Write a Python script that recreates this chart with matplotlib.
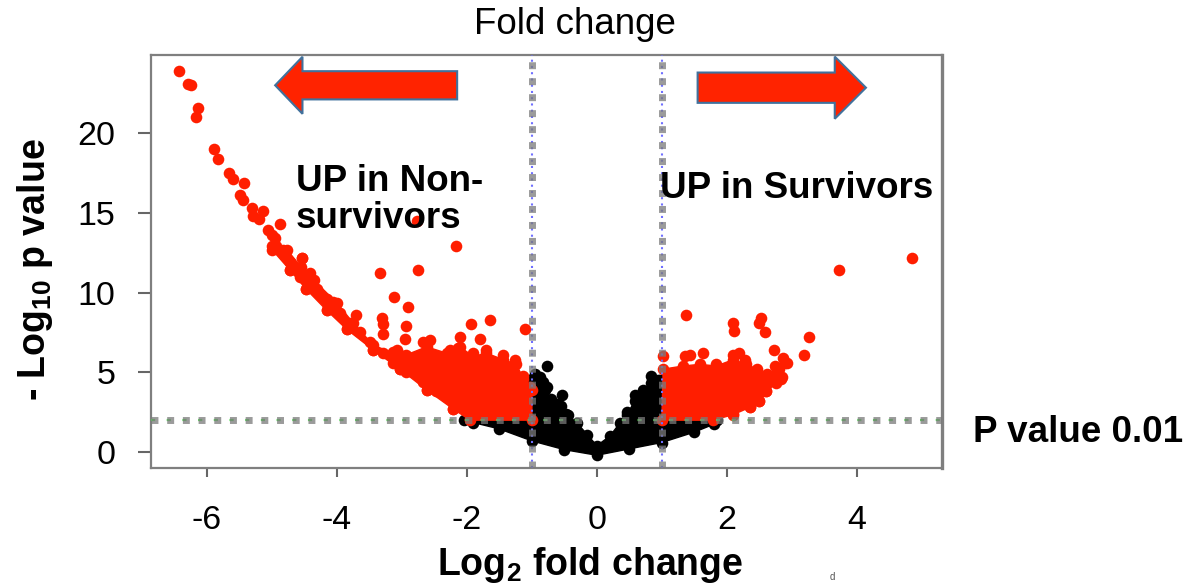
import matplotlib
matplotlib.use("Agg")
import matplotlib.pyplot as plt
from matplotlib.patches import Polygon, FancyArrow

plt.rcParams['font.family'] = ['Liberation Sans', 'DejaVu Sans']
plt.rcParams['lines.scale_dashes'] = False
plt.rcParams['mathtext.fontset'] = 'custom'
plt.rcParams['mathtext.rm'] = 'Liberation Sans'
plt.rcParams['mathtext.bf'] = 'Liberation Sans:bold'

# ---------------- data ----------------
x_ticks = [-6, -4, -2, 0, 2, 4]
y_ticks = [0, 5, 10, 15, 20]
fc_cut = 1.0          # |log2 fold change| threshold
p_cut = 2.0           # -log10(0.01)

# individual significant genes (red) - left side
red_left_x = [-6.43, -6.29, -6.24, -6.13, -6.17, -5.89, -5.83, -5.66, -5.60, -5.43, -5.49, -5.45,
              -5.30, -5.29, -5.13, -4.87, -5.06, -4.95, -4.93, -4.83, -5.20, -5.00,
              -4.72, -4.54, -4.57, -4.42, -4.31, -4.16, -4.06, -3.95, -3.70, -3.80, -3.65, -3.49,
              -3.29, -3.13, -2.93, -2.67, -2.47, -2.31,
              -4.72, -4.47, -4.16, -3.85, -3.44, -3.03, -2.62, -2.21, -1.95,
              -2.77, -2.16, -2.75, -3.34, -4.53, -3.12, -2.90, -3.31, -3.29, -3.29, -2.93, -2.95,
              -1.93, -1.65, -1.11, -2.11, -1.80, -2.57, -2.67, -2.26, -2.13, -1.70, -1.44, -1.26,
              -1.90, -3.13, -1.13, -1.03, -2.98, -3.08]
red_left_y = [23.9, 23.1, 23.0, 21.6, 21.0, 19.0, 18.4, 17.5, 17.1, 16.9, 16.1, 15.8,
              15.3, 14.8, 15.1, 14.3, 13.9, 13.4, 12.9, 12.7, 14.6, 13.6,
              11.9, 12.2, 11.0, 11.2, 10.2, 9.6, 9.4, 8.7, 8.6, 8.1, 7.5, 6.9,
              6.2, 5.6, 5.0, 4.4, 3.8, 3.5,
              11.4, 10.2, 8.9, 7.7, 6.4, 5.2, 3.9, 2.7, 2.1,
              14.5, 12.9, 11.4, 11.2, 12.2, 9.7, 9.1, 8.4, 8.0, 7.4, 7.9, 7.1,
              8.0, 8.3, 7.7, 7.2, 7.1, 7.0, 6.9, 6.4, 6.5, 6.4, 6.1, 5.8,
              6.2, 6.3, 4.8, 4.1, 6.0, 6.4]

# individual significant genes (red) - right side
red_right_x = [1.37, 2.10, 2.11, 2.53, 2.50, 2.58, 3.27, 3.18, 2.72, 2.87, 2.89, 1.02, 1.35, 1.44,
               1.64, 1.84, 2.10, 2.19, 2.28, 2.43, 2.76, 3.72, 4.85, 2.56, 2.74, 2.76, 2.84, 2.66,
               2.10, 2.35, 2.50, 2.60, 2.92]
red_right_y = [8.6, 8.1, 7.6, 8.4, 8.1, 7.5, 7.2, 6.1, 6.4, 5.9, 5.6, 6.0, 6.0, 6.1,
               6.2, 5.5, 6.1, 6.2, 5.8, 5.1, 4.7, 11.4, 12.2, 3.8, 5.4, 4.9, 4.6, 4.5,
               2.4, 2.8, 3.2, 3.8, 5.6]

# non-significant genes (black) standing out of the dense core
black_x = [-0.77, -0.88, -0.83, -0.77, -0.54, -0.72, -0.60, -0.47, 0.58, 0.71, 0.84, 0.94, 0.46, -0.95]
black_y = [5.4, 4.7, 4.4, 4.1, 3.6, 3.2, 3.0, 2.4, 3.6, 3.9, 4.8, 4.5, 2.5, 4.9]

# outlines of the dense (overplotted) clouds of points
cloud_left_x = [-5.00, -4.77, -4.55, -4.36, -4.00, -3.75, -3.44, -3.13, -2.93, -2.62, -2.31, -2.11,
                -1.90, -1.70, -1.44, -1.24, -1.13, -1.00, -1.00, -1.95, -2.21, -2.62, -3.03, -3.44,
                -3.85, -4.16, -4.47, -4.72, -5.00]
cloud_left_y = [12.9, 12.7, 11.6, 10.8, 9.35, 8.1, 6.7, 6.2, 6.1, 6.6, 6.2, 6.6,
                6.0, 6.2, 5.8, 5.5, 4.6, 3.9, 2.0, 2.0, 2.7, 3.9, 5.2, 6.4,
                7.7, 8.9, 10.2, 11.4, 12.7]
cloud_right_x = [1.00, 1.79, 2.10, 2.35, 2.50, 2.60, 2.76, 2.85, 2.80, 2.61, 2.46, 2.30, 2.10,
                 1.84, 1.58, 1.33, 1.02]
cloud_right_y = [2.0, 2.0, 2.35, 2.8, 3.2, 3.8, 4.3, 4.7, 5.2, 4.9, 5.2, 5.5, 5.8,
                 5.4, 5.5, 5.4, 5.2]
cloud_black_x = [-2.05, -1.00, -1.00, -0.88, -0.80, -0.70, -0.55, -0.45, -0.30, -0.15, 0.00, 0.20,
                 0.35, 0.46, 0.58, 0.70, 0.84, 0.97, 1.00, 1.00, 1.85, 1.80, 1.50, 1.00, 0.50,
                 0.00, -0.50, -1.00, -1.50, -1.90]
cloud_black_y = [2.0, 2.0, 4.6, 4.4, 3.9, 3.3, 2.9, 2.3, 1.8, 1.1, 0.4, 1.0,
                 1.8, 2.3, 3.2, 3.6, 4.3, 4.5, 4.5, 2.0, 2.0, 1.75, 1.25, 0.6, 0.2,
                 -0.2, 0.15, 0.7, 1.45, 1.85]

RED = '#FF1E00'

# ---------------- figure ----------------
fig = plt.figure(figsize=(11.93, 5.87), dpi=100)
ax = fig.add_axes([0.1266, 0.2027, 0.6630, 0.7036])
ax.set_xlim(-6.86, 5.31)
ax.set_ylim(-1.0, 24.9)

# dense clouds
ax.add_patch(Polygon(list(zip(cloud_black_x, cloud_black_y)), closed=True, fc='black', ec='black', lw=1, zorder=2))
ax.add_patch(Polygon(list(zip(cloud_left_x, cloud_left_y)), closed=True, fc=RED, ec=RED, lw=1, zorder=3))
ax.add_patch(Polygon(list(zip(cloud_right_x, cloud_right_y)), closed=True, fc=RED, ec=RED, lw=1, zorder=3))

ms = 70
ax.scatter(black_x, black_y, s=ms, c='black', lw=0, zorder=2.5)
ax.scatter(cloud_black_x, cloud_black_y, s=ms, c='black', lw=0, zorder=2.5)
ax.scatter(cloud_left_x, cloud_left_y, s=ms, c=RED, lw=0, zorder=3.5)
ax.scatter(cloud_right_x, cloud_right_y, s=ms, c=RED, lw=0, zorder=3.5)
ax.scatter(red_left_x, red_left_y, s=ms, c=RED, lw=0, zorder=4)
ax.scatter(red_right_x, red_right_y, s=ms, c=RED, lw=0, zorder=4)

# threshold lines
ax.axhline(p_cut, color='#55DD55', lw=1.6, dashes=(3, 8.3), dash_capstyle='butt', zorder=5)
ax.axhline(p_cut, color='#7A7A7A', lw=5, alpha=0.75, dashes=(5, 6.3), dash_capstyle='butt', zorder=5.5)
for xv in (-fc_cut, fc_cut):
    ax.axvline(xv, color='#6F6FFF', lw=1.5, dashes=(1.5, 3.0), zorder=5)
    ax.axvline(xv, color='#7A7A7A', lw=5, alpha=0.75, dashes=(5, 6.5), dash_capstyle='butt', zorder=5.5)

# arrows
ax.add_patch(FancyArrow(-2.15, 23.0, -2.80, 0, width=1.77, head_width=3.58, head_length=0.42,
                        length_includes_head=True, fc='#FF2300', ec='#41719C', lw=1.5,
                        clip_on=False, zorder=6))
ax.add_patch(FancyArrow(1.55, 22.85, 2.59, 0, width=1.9, head_width=3.9, head_length=0.48,
                        length_includes_head=True, fc='#FF2300', ec='#41719C', lw=1.5,
                        clip_on=False, zorder=6))

# axes styling
for side in ['left', 'bottom', 'top', 'right']:
    ax.spines[side].set_color('#7F7F7F')
    ax.spines[side].set_linewidth(1.6)
ax.spines['right'].set_linewidth(2.4)
ax.set_xticks(x_ticks)
ax.set_xticklabels([str(v) for v in x_ticks])
ax.set_yticks(y_ticks)
ax.set_yticklabels([str(v) for v in y_ticks])
ax.tick_params(axis='y', direction='out', length=9.5, width=1.5, color='#666666', pad=16, labelsize=24.5)
ax.tick_params(axis='x', direction='out', length=6.5, width=1.5, color='#666666', pad=20, labelsize=24.5)

ax.set_xlabel('Log$_\\mathbf{2}$ fold change', fontsize=27, fontweight='bold')
ax.set_ylabel('- Log$_\\mathbf{10}$ p value', fontsize=27, fontweight='bold')
ax.xaxis.set_label_coords(0.555, -0.186)
ax.yaxis.set_label_coords(-0.121, 0.48)

# annotations
fig.text(575 / 1193, 1 - 25 / 587, 'Fold change', ha='center', va='center', fontsize=26.5)
fig.text(296 / 1193, 1 - 200 / 587, 'UP in Non-\nsurvivors', ha='left', va='center',
         fontsize=26.5, fontweight='bold', linespacing=1.05)
fig.text(660 / 1193, 1 - 188 / 587, 'UP in Survivors', ha='left', va='center',
         fontsize=26.5, fontweight='bold')
fig.text(973 / 1193, 1 - 432 / 587, 'P value 0.01', ha='left', va='center',
         fontsize=26.5, fontweight='bold')
fig.text(832 / 1193, 1 - 577 / 587, 'd', ha='center', va='center', fontsize=7, color='#555555')

fig.savefig('out.png', dpi=100)
